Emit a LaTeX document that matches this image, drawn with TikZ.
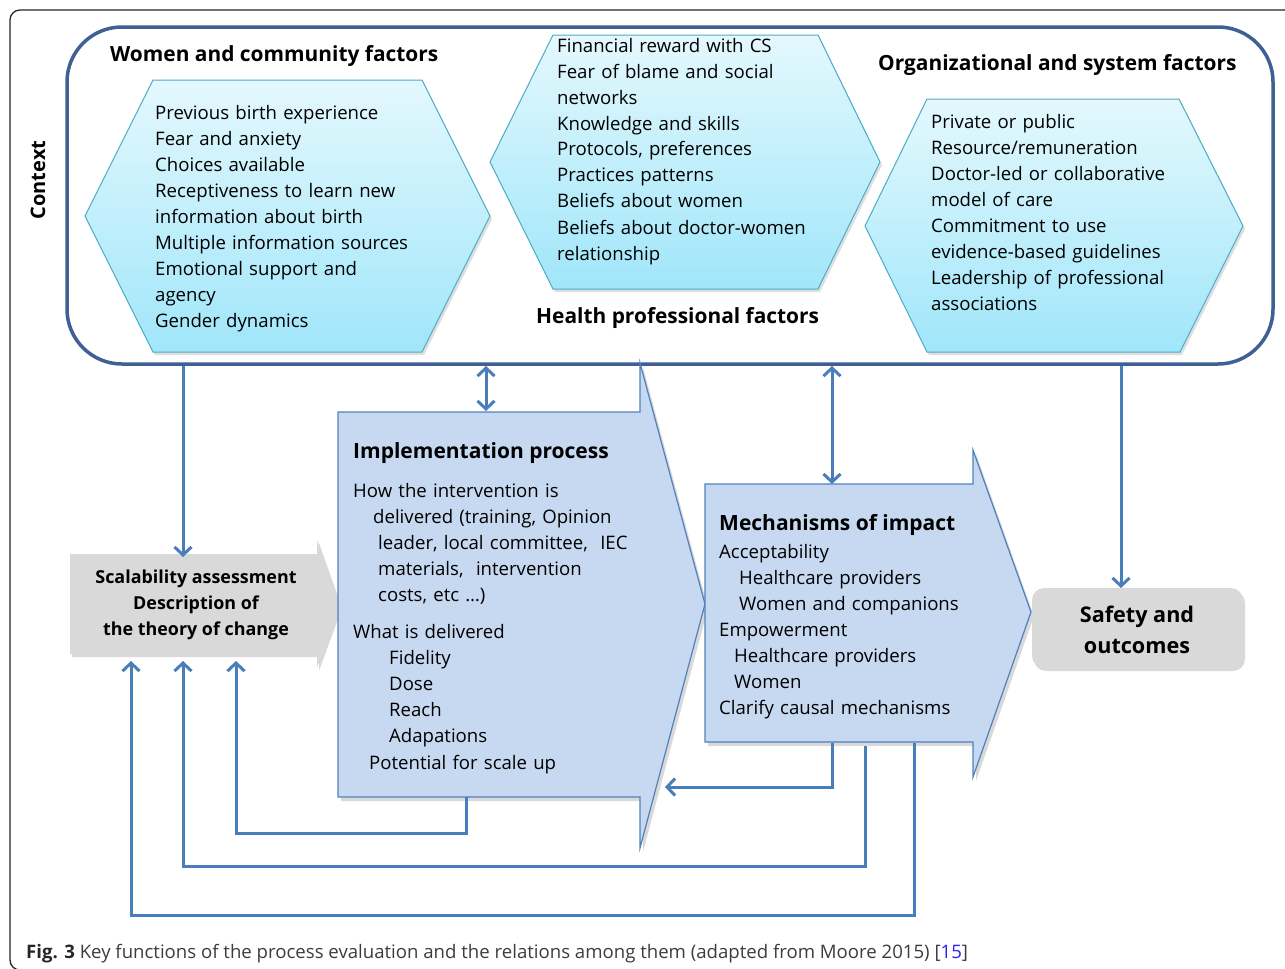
\documentclass[tikz,border=0pt]{standalone}
\usepackage{fontspec}
\setmainfont{Open Sans}
\usetikzlibrary{arrows.meta,shadows}
\definecolor{conn}{RGB}{74,126,187}
\definecolor{ctxborder}{RGB}{62,96,146}
\definecolor{hexborder}{RGB}{75,172,198}
\definecolor{hextop}{RGB}{228,248,253}
\definecolor{hexbot}{RGB}{160,230,250}
\definecolor{impfill}{RGB}{198,217,241}
\definecolor{impborder}{RGB}{79,129,189}
\definecolor{boxgray}{RGB}{217,217,217}
\definecolor{capgray}{RGB}{60,60,60}
\definecolor{linkblue}{RGB}{40,40,230}
\begin{document}
\begin{tikzpicture}[x=1pt,y=-1pt,
  conn/.style={draw=conn, line width=3pt},
  tipone/.style={-{Straight Barb[length=8pt,width=17pt]}},
  tiptwo/.style={{Straight Barb[length=8pt,width=17pt]}-{Straight Barb[length=8pt,width=17pt]}},
  hexshape/.style={draw=hexborder, line width=1pt, top color=hextop, bottom color=hexbot, drop shadow={opacity=0.25, shadow xshift=2pt, shadow yshift=-3pt}},
  bluearrow/.style={draw=impborder, line width=1.2pt, fill=impfill, drop shadow={opacity=0.3, shadow xshift=3pt, shadow yshift=-4pt}},
  graybox/.style={fill=boxgray, drop shadow={opacity=0.3, shadow xshift=2pt, shadow yshift=-3pt}},
  body/.style={font=\fontsize{18.6}{26}\selectfont, inner sep=0pt, anchor=base west, text width=420pt, align=left},
  heading/.style={font=\fontsize{20.9}{26}\selectfont\bfseries, inner sep=0pt, anchor=base west},
  title/.style={font=\fontsize{21}{26}\selectfont\bfseries, inner sep=0pt, anchor=base west}
]
\useasboundingbox (0,0) rectangle (1285,969);
% outer frame
\draw[line width=1.3pt, black!85, rounded corners=10pt] (1295,10) -- (10,10) -- (10,970) -- (1295,970);
% context box
\draw[ctxborder, line width=3.5pt, rounded corners=55pt] (67,27) rectangle (1273,364);
\node[font=\fontsize{20}{24}\selectfont\bfseries, rotate=90, inner sep=0pt] (context) at (38,180) {Context};
% hexagons
\path[hexshape] (85,216) -- (153,80) -- (422,80) -- (490,216) -- (422,352) -- (153,352) -- cycle;
\path[hexshape] (490,162) -- (553,35) -- (818,35) -- (880,162) -- (818,289) -- (553,289) -- cycle;
\path[hexshape] (865,226) -- (927,99) -- (1179,99) -- (1243,226) -- (1180,352) -- (927,352) -- cycle;
% headings
\node[heading] (hw) at (110,61) {Women and community factors};
\node[heading] (hh) at (536,323) {Health professional factors};
\node[heading] (ho) at (878,70) {Organizational and system factors};
% hexagon texts
\node[body] (tw) at (155,119) {Previous birth experience\\Fear and anxiety\\Choices available\\Receptiveness to learn new\\information about birth\\Multiple information sources\\Emotional support and\\agency\\Gender dynamics};
\node[body] (th) at (557,52) {Financial reward with CS\\Fear of blame and social\\networks\\Knowledge and skills\\Protocols, preferences\\Practices patterns\\Beliefs about women\\Beliefs about doctor-women\\relationship};
\node[body] (to) at (931,128) {Private or public\\Resource/remuneration\\Doctor-led or collaborative\\model of care\\Commitment to use\\evidence-based guidelines\\Leadership of professional\\associations};
% scalability box
\path[graybox] (70,554) -- (317,554) -- (317,540) -- (340,605) -- (317,668) -- (317,654) -- (70,654) -- cycle;
\node[font=\fontsize{17.9}{26}\selectfont\bfseries, align=center, inner sep=0pt] (scal) at (196,605) {Scalability assessment\\Description of\\the theory of change};
% implementation arrow
\path[bluearrow] (338,412) -- (640,412) -- (640,363) -- (705,604) -- (640,848) -- (640,797) -- (338,797) -- cycle;
\node[title] (impt) at (353,458) {Implementation process};
\node[body] (imp1) at (353,497) {How the intervention is\\\hspace*{20pt}delivered (training, Opinion\\\hspace*{25pt}leader, local committee,~ IEC\\\hspace*{25pt}materials,~ intervention\\\hspace*{25pt}costs, etc \dots)};
\node[body] (imp2) at (353,638) {What is delivered\\\hspace*{36pt}Fidelity\\\hspace*{36pt}Dose\\\hspace*{36pt}Reach\\\hspace*{36pt}Adapations\\[1pt]\hspace*{16pt}Potential for scale up};
% mechanisms arrow
\path[bluearrow] (705,484) -- (973,484) -- (973,450) -- (1031,612) -- (973,777) -- (973,742) -- (705,742) -- cycle;
\node[title] (mecht) at (719,530) {Mechanisms of impact};
\node[body] (mech1) at (719,558) {Acceptability\\\hspace*{20pt}Healthcare providers\\\hspace*{20pt}Women and companions\\Empowerment\\\hspace*{15pt}Healthcare providers\\\hspace*{15pt}Women\\Clarify causal mechanisms};
% safety box
\path[graybox, rounded corners=12pt] (1032,588) rectangle (1243,668);
\node[font=\fontsize{21.6}{31}\selectfont\bfseries, align=center, inner sep=0pt] (safe) at (1137,630) {Safety and\\outcomes};
% caption
\node[inner sep=0pt, anchor=base west, font=\fontsize{18.6}{24}\selectfont, text=capgray] (cap) at (26,958) {{\bfseries\color{black!85}Fig. 3} Key functions of the process evaluation and the relations among them (adapted from Moore 2015) [\textcolor{linkblue}{15}]};
% connection points
\coordinate (ctxA) at (183,366);
\coordinate (scalT) at (183,557);
\coordinate (ctxB) at (486,366);
\coordinate (impT) at (486,411);
\coordinate (ctxC) at (832,366);
\coordinate (mechT) at (832,484);
\coordinate (ctxD) at (1121,366);
\coordinate (safT) at (1121,588);
\coordinate (impB) at (466,797);
\coordinate (scalB3) at (236,661);
\coordinate (mechB1) at (832,743);
\coordinate (impR) at (665,787);
\coordinate (mechB2) at (865,746);
\coordinate (scalB2) at (183,661);
\coordinate (mechB3) at (914,743);
\coordinate (scalB1) at (131,661);
% connectors
\draw[conn, tipone] (ctxA) -- (scalT);
\draw[conn, tiptwo] (ctxB) -- (impT);
\draw[conn, tiptwo] (ctxC) -- (mechT);
\draw[conn, tipone] (ctxD) -- (safT);
\draw[conn, tipone] (impB) -- ++(0,36) -| (scalB3);
\draw[conn, tipone] (mechB1) |- (impR);
\draw[conn, tipone] (mechB2) -- ++(0,120) -| (scalB2);
\draw[conn, tipone] (mechB3) -- ++(0,172) -| (scalB1);
\end{tikzpicture}
\end{document}
